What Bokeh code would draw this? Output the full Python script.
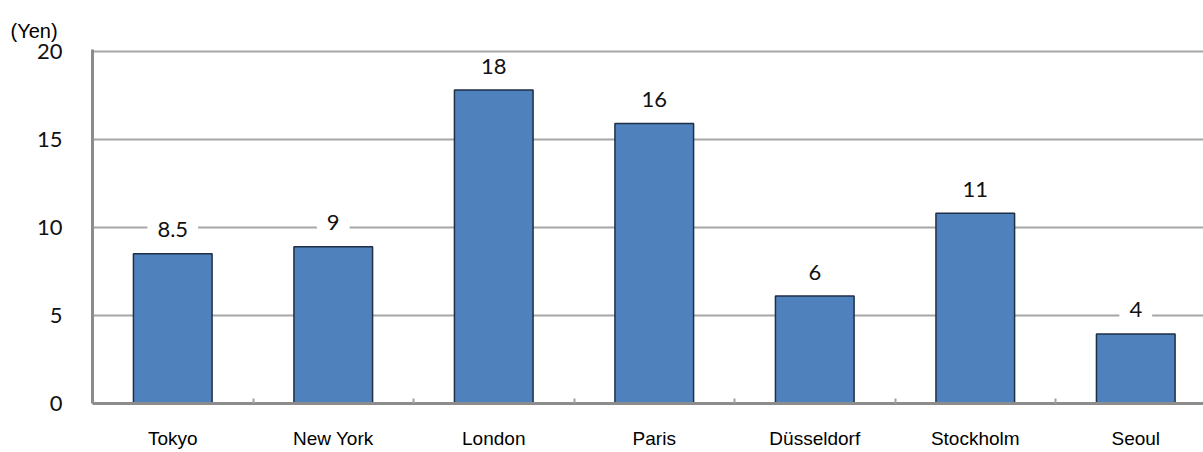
from bokeh.plotting import figure
from bokeh.models import Range1d, FixedTicker, ColumnDataSource
from bokeh.core.properties import value
from bokeh.embed import file_html
from bokeh.resources import INLINE

cities = ["Tokyo", "New York", "London", "Paris", "Düsseldorf", "Stockholm", "Seoul"]
prices = [8.5, 8.9, 17.8, 15.9, 6.1, 10.8, 3.95]
price_labels = ["8.5", "9", "18", "16", "6", "11", "4"]
y_ticks = [0, 5, 10, 15, 20]
unit_label = "(Yen)"

xs = [i + 0.5 for i in range(len(cities))]
src = ColumnDataSource(dict(x=xs, top=prices, label=price_labels, city=cities))

p = figure(width=1203, height=452, output_backend="svg", toolbar_location=None,
           x_range=Range1d(0, 6.922), y_range=Range1d(0, 20.1),
           min_border_left=92, min_border_right=0, min_border_top=49,
           min_border_bottom=49, title=unit_label)
p.outline_line_color = None

p.title.align = "left"
p.title.offset = -82
p.title.standoff = 16
p.title.text_font = "Liberation Sans"
p.title.text_font_style = "normal"
p.title.text_font_size = "20px"
p.title.text_color = "#000000"

p.vbar(x="x", top="top", width=0.49, source=src, fill_color="#4F81BD",
       line_color="#1F2F45", line_width=1.5)

p.text(x="x", y="top", text="label", source=src, text_align="center",
       text_baseline="middle", y_offset=-24, text_font=value("Lato"),
       text_font_size="22px", text_color="#111111",
       background_fill_color="white", padding=(10, 2))

# grid
p.xgrid.visible = False
p.ygrid.grid_line_color = "#A6A6A6"
p.ygrid.grid_line_width = 2

# y axis
p.yaxis.ticker = FixedTicker(ticks=y_ticks)
p.yaxis.major_tick_line_color = None
p.yaxis.minor_tick_line_color = None
p.yaxis.axis_line_color = "#8C8C8C"
p.yaxis.axis_line_width = 3
p.yaxis.major_label_standoff = 24
p.yaxis.major_label_text_font = "Lato"
p.yaxis.major_label_text_font_size = "22px"
p.yaxis.major_label_text_color = "#111111"

# x axis
p.xaxis.ticker = FixedTicker(ticks=xs, minor_ticks=list(range(1, len(cities))))
p.xaxis.major_label_overrides = {x: c for x, c in zip(xs, cities)}
p.xaxis.major_tick_line_color = None
p.xaxis.minor_tick_in = 5
p.xaxis.minor_tick_out = 0
p.xaxis.minor_tick_line_color = "#A0A0A0"
p.xaxis.minor_tick_line_width = 2
p.xaxis.axis_line_color = "#8C8C8C"
p.xaxis.axis_line_width = 3
p.xaxis.major_label_standoff = 18
p.xaxis.major_label_text_font = "Liberation Sans"
p.xaxis.major_label_text_font_size = "19px"
p.xaxis.major_label_text_color = "#000000"

open("out.html", "w").write(file_html(p, INLINE))
